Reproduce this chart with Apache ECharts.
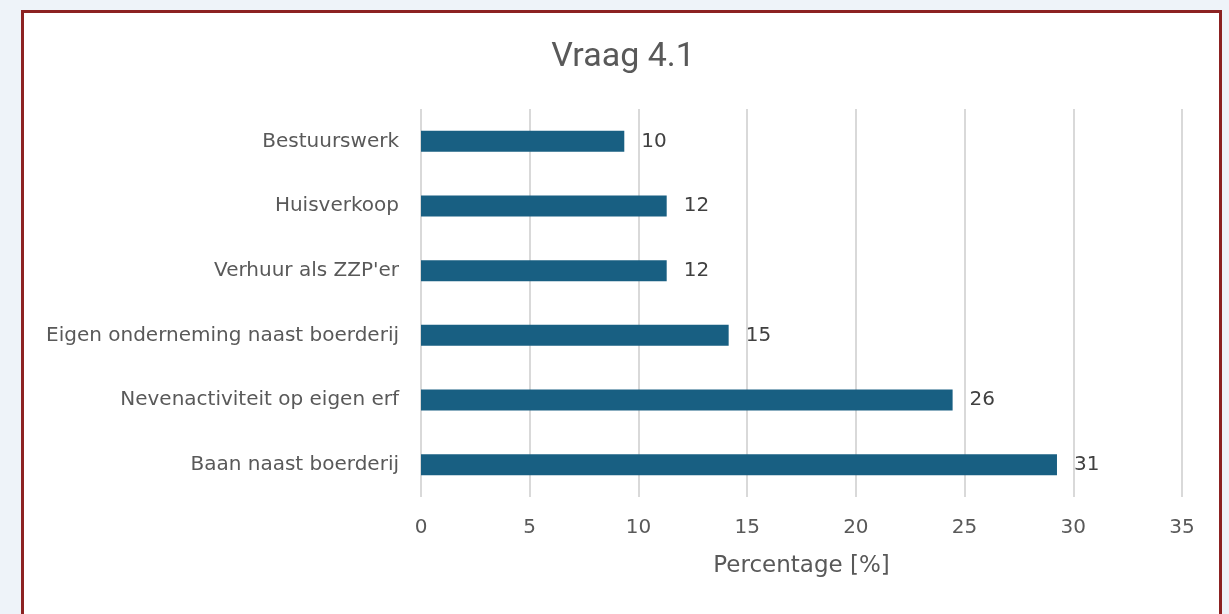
<!DOCTYPE html>
<html lang="nl">
  <head>
    <meta charset="UTF-8" />
    <title>Vraag 4.1</title>
    <script src="https://cdn.jsdelivr.net/npm/echarts@6/dist/echarts.min.js"></script>
    <style>
      * {
        margin: 0;
        padding: 0;
        box-sizing: border-box;
      }
      body {
        width: 1229px;
        height: 614px;
        overflow: hidden;
        background: #eef3f9;
        position: relative;
      }
      .frame {
        position: absolute;
        left: 21px;
        top: 10px;
        width: 1201px;
        height: 700px;
        background: #fff;
        border: 3px solid #8c2222;
      }
      #chart {
        position: absolute;
        left: 0;
        top: 0;
        width: 1229px;
        height: 614px;
      }
    </style>
  </head>
  <body>
    <div class="frame"></div>
    <div id="chart"></div>
    <script>
      // categories from bottom to top
      const categories = [
        "Baan naast boerderij",
        "Nevenactiviteit op eigen erf",
        "Eigen onderneming naast boerderij",
        "Verhuur als ZZP'er",
        "Huisverkoop",
        "Bestuurswerk",
      ];
      // bar lengths as drawn
      const values = [29.25, 24.45, 14.15, 11.3, 11.3, 9.35];
      // labels printed next to the bars
      const labels = [31, 26, 15, 12, 12, 10];
      const xTicks = [0, 35, 5];

      const chart = echarts.init(document.getElementById("chart"));
      const font = "'DejaVu Sans', sans-serif";

      chart.setOption({
        animation: false,
        backgroundColor: "transparent",
        textStyle: { fontFamily: font },
        title: {
          text: "Vraag 4.1",
          left: 618,
          textAlign: "center",
          top: 35,
          textStyle: {
            fontFamily: "Roboto, sans-serif",
            fontSize: 34,
            fontWeight: "normal",
            color: "#595959",
          },
        },
        grid: {
          left: 421,
          right: 47,
          top: 109,
          height: 388,
        },
        xAxis: {
          type: "value",
          min: xTicks[0],
          max: xTicks[1],
          interval: xTicks[2],
          name: "Percentage [%]",
          nameLocation: "middle",
          nameGap: 58,
          nameTextStyle: { fontSize: 23, color: "#595959", fontFamily: font },
          axisLine: { show: false },
          axisTick: { show: false },
          axisLabel: { fontSize: 20, color: "#595959", margin: 21, fontFamily: font },
          splitLine: { lineStyle: { color: "#d9d9d9", width: 2 } },
        },
        yAxis: {
          type: "category",
          data: categories,
          axisLine: { show: false },
          axisTick: { show: false },
          axisLabel: { fontSize: 20, color: "#595959", margin: 22, fontFamily: font },
        },
        series: [
          {
            type: "bar",
            data: values,
            barWidth: 21,
            itemStyle: { color: "#185f82" },
            label: {
              show: true,
              position: "right",
              distance: 17,
              fontSize: 20,
              fontFamily: font,
              color: "#404040",
              formatter: (p) => labels[p.dataIndex],
            },
          },
        ],
      });
    </script>
  </body>
</html>
